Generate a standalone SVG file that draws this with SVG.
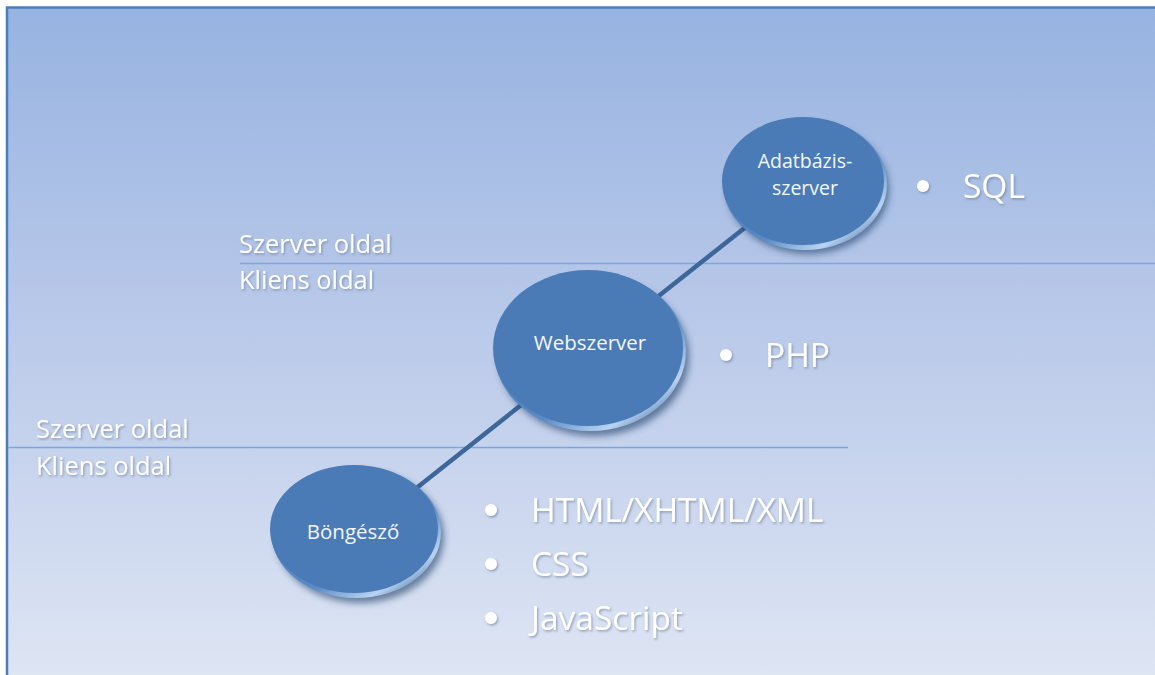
<svg xmlns="http://www.w3.org/2000/svg" width="1155" height="675" viewBox="0 0 1155 675">
  <defs>
    <linearGradient id="bg" x1="0" y1="0" x2="0" y2="1">
      <stop offset="0" stop-color="#97b3e1"/>
      <stop offset="0.5" stop-color="#bccbea"/>
      <stop offset="1" stop-color="#dfe6f4"/>
    </linearGradient>
    <linearGradient id="rim" x1="0.2" y1="0.2" x2="0.9" y2="1">
      <stop offset="0" stop-color="#4a7bb6"/>
      <stop offset="0.55" stop-color="#5a8bc6"/>
      <stop offset="0.8" stop-color="#b8d3f3"/>
      <stop offset="1" stop-color="#2b568a"/>
    </linearGradient>
    <filter id="dropShadow" x="-20%" y="-20%" width="140%" height="150%">
      <feGaussianBlur stdDeviation="3.5"/>
    </filter>
    <filter id="textShadow" x="-5%" y="-20%" width="110%" height="150%">
      <feDropShadow dx="1.2" dy="1.5" stdDeviation="0.8" flood-color="#5a6b85" flood-opacity="0.55"/>
    </filter>
    <style>
      .label { font-family: "Open Sans", "Noto Sans", sans-serif; fill: #ffffff; }
      .node-text { font-size: 20.5px; text-anchor: middle; fill: #f4f7fc; }
      .node-text.small { font-size: 19.5px; }
      .side { font-size: 25.5px; }
      .item { font-size: 33.5px; }
      .divider { stroke: #7fa6dc; stroke-width: 1.6; }
      .face { fill: #4a7bb6; }
      .shadow { fill: #1f3d66; opacity: 0.6; }
      .bullet { fill: #ffffff; }
    </style>
  </defs>

  <!-- page background with frame -->
  <rect x="0" y="0" width="1155" height="675" fill="#ffffff"/>
  <rect x="7" y="7.5" width="1160" height="680" fill="url(#bg)" stroke="#4a7ebb" stroke-width="2.5"/>

  <!-- tier dividers -->
  <line class="divider" x1="240" y1="263.5" x2="1155" y2="263.5"/>
  <line class="divider" x1="8" y1="447.5" x2="848" y2="447.5"/>

  <g id="tier-labels" class="label side" filter="url(#textShadow)">
    <text x="239" y="253">Szerver oldal</text>
    <text x="239" y="289">Kliens oldal</text>
    <text x="36" y="438">Szerver oldal</text>
    <text x="36" y="475">Kliens oldal</text>
  </g>

  <!-- connectors -->
  <g id="connectors">
    <line x1="356" y1="536" x2="805" y2="180" stroke="#3d6699" stroke-width="4.5"/>
  </g>

  <g id="node-browser">
    <ellipse class="shadow" cx="360" cy="537" rx="84" ry="66" filter="url(#dropShadow)"/>
    <ellipse cx="356" cy="532" rx="85" ry="66" fill="url(#rim)"/>
    <ellipse class="face" cx="354" cy="529" rx="84" ry="64"/>
    <text class="label node-text" x="353" y="539">Böngésző</text>
  </g>

  <g id="node-webserver">
    <ellipse class="shadow" cx="594" cy="357" rx="95" ry="79" filter="url(#dropShadow)"/>
    <ellipse cx="590" cy="351" rx="96" ry="80" fill="url(#rim)"/>
    <ellipse class="face" cx="588" cy="348" rx="95" ry="78"/>
    <text class="label node-text" x="590" y="350">Webszerver</text>
  </g>

  <g id="node-dbserver">
    <ellipse class="shadow" cx="808" cy="189" rx="81" ry="65" filter="url(#dropShadow)"/>
    <ellipse cx="805" cy="184" rx="82" ry="66" fill="url(#rim)"/>
    <ellipse class="face" cx="803" cy="181" rx="81" ry="64"/>
    <text class="label node-text small" x="805" y="168">Adatbázis-</text>
    <text class="label node-text small" x="805" y="195">szerver</text>
  </g>

  <g id="db-items" filter="url(#textShadow)">
    <circle class="bullet" cx="923" cy="186" r="6"/>
    <text class="label item" x="963" y="198">SQL</text>
  </g>

  <g id="web-items" filter="url(#textShadow)">
    <circle class="bullet" cx="726" cy="355" r="6"/>
    <text class="label item" x="765" y="367">PHP</text>
  </g>

  <g id="browser-items" filter="url(#textShadow)">
    <circle class="bullet" cx="491" cy="510" r="6"/>
    <text class="label item" x="531" y="522">HTML/XHTML/XML</text>
    <circle class="bullet" cx="491" cy="564" r="6"/>
    <text class="label item" x="531" y="576">CSS</text>
    <circle class="bullet" cx="491" cy="618" r="6"/>
    <text class="label item" x="531" y="630">JavaScript</text>
  </g>
</svg>
